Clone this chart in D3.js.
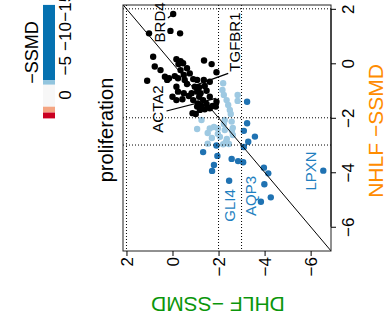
<!DOCTYPE html>
<html>
<head>
<meta charset="utf-8">
<script src="https://cdn.jsdelivr.net/npm/d3@7"></script>
<style>
  body { margin: 0; background: #fff; }
  svg { display: block; }
  text { font-family: "Liberation Sans", Arial, sans-serif; }
</style>
</head>
<body>
<div id="chart"></div>
<script>
// -SSMD per gene, DHLF vs NHLF
const blackDHLF = [-0.03, 1.02, 0.09, -0.33, 0.84, -0.17, -0.35, -0.46, -0.26, -1.37, -1.70, 0.77, 0.52, -0.63, -0.35, -1.91, 1.10, 0.33, 0.15, 0.23, -0.10, -0.24, -0.49, -0.75, -0.53, -0.90, -1.07, -1.36, -1.62, -0.17, -0.63, -0.97, -1.16, -1.40, -0.24, -0.49, -0.83, -1.07, -1.22, -1.48, 0.00, -0.17, -0.43, -0.71, -0.90, -1.16, -1.33, -1.62, -1.11, -1.26, -1.48, -1.91, -1.88, -1.62, -1.07, -0.87, -1.01, -1.40, -1.74, -1.19];
const blackNHLF = [1.81, 1.10, 1.19, 1.10, 0.24, 0.15, 0.08, 0.00, -0.03, 0.10, -0.03, -0.12, -0.25, -0.18, -0.25, -0.33, -0.64, -0.49, -0.55, -0.61, -0.47, -0.55, -0.43, -0.37, -0.61, -0.58, -0.61, -0.61, -0.68, -0.86, -0.76, -0.86, -0.88, -0.83, -1.04, -1.10, -1.10, -1.04, -1.10, -1.01, -1.23, -1.35, -1.32, -1.20, -1.35, -1.23, -1.35, -1.23, -1.47, -1.57, -1.49, -1.41, -1.59, -1.65, -1.59, -1.83, -1.86, -1.69, -1.57, -1.71];

const lightDHLF = [-2.20, -2.17, -2.23, -2.35, -2.42, -2.83, -2.83, -2.49, -2.53, -1.26, -2.27, -2.57, -1.07, -1.62, -1.80, -1.97, -2.23, -2.62, -2.27, -1.53, -1.71, -2.06, -2.36, -2.62, -1.53, -2.20, -2.45, -2.32, -2.58, -1.97];
const lightNHLF = [-0.73, -0.98, -1.16, -1.35, -1.53, -1.16, -1.38, -1.71, -1.86, -2.08, -2.08, -2.14, -2.41, -2.39, -2.34, -2.39, -2.23, -2.37, -2.45, -2.56, -2.74, -2.70, -2.78, -2.63, -2.95, -2.97, -2.96, -2.89, -2.48, -2.59];

const darkDHLF = [-3.24, -3.24, -3.10, -3.58, -3.29, -1.91, -3.10, -1.33, -1.95, -2.57, -2.85, -3.07, -1.80, -1.72, -2.46, -3.97, -4.16, -3.99, -4.27, -3.84, -6.55];
const darkNHLF = [-1.41, -2.20, -2.48, -2.69, -2.88, -3.02, -3.07, -3.26, -3.40, -3.51, -3.59, -3.63, -3.73, -3.95, -4.31, -3.83, -4.04, -4.44, -4.92, -5.08, -3.94];

// labelled genes: label position and (optional) leader line, all in data units
const geneNames = ['BRD4', 'TGFBR1', 'ACTA2', 'GLI4', 'AQP3', 'LPXN'];
const geneLabelDHLF = [0.55, -2.71, 0.64, -2.49, -3.38, -6.01];
const geneLabelNHLF = [1.50, 0.78, -1.68, -5.22, -4.87, -3.95];
const geneColor = ['#000', '#000', '#000', '#1f7fc0', '#1f7fc0', '#1f7fc0'];
const leaderFrom = [[0.20, 1.66], [-2.42, -0.37], [0.26, -1.75]];
const leaderTo = [[-0.03, 1.81], [-1.01, -0.80], [-1.88, -1.29]];

const axisTicks = [2, 0, -2, -4, -6];
const cutoffs = [2, -2, -3];

// colour key for -SSMD
const keyBreaks = [-15.4, -2.5, -1.75, 2, 3, 4];
const keyColors = ['#0571b0', '#92c5de', '#f7f7f7', '#f4a582', '#ca0020'];
const keyTicks = [0, -5, -10, -15];

const W = 391, H = 321;
const minus = d => d < 0 ? '\u2212' + Math.abs(d) : String(d);

const svg = d3.select('#chart').append('svg')
  .attr('width', W)
  .attr('height', H);

// plot is drawn turned a quarter turn: DHLF runs along the bottom, NHLF up the right side
const x = d3.scaleLinear().domain([2.15, -6.885]).range([123, 331]);
const y = d3.scaleLinear().domain([2.14, -6.89]).range([5, 251]);

svg.append('clipPath').attr('id', 'plotclip')
  .append('rect')
  .attr('x', x.range()[0]).attr('y', y.range()[0])
  .attr('width', x.range()[1] - x.range()[0])
  .attr('height', y.range()[1] - y.range()[0]);

const plot = svg.append('g').attr('clip-path', 'url(#plotclip)');

// points
const series = [
  {dh: blackDHLF, nh: blackNHLF, fill: '#000'},
  {dh: lightDHLF, nh: lightNHLF, fill: '#9ec9e2'},
  {dh: darkDHLF, nh: darkNHLF, fill: '#1f72b2'}
];
series.forEach(s => {
  plot.append('g').selectAll('circle')
    .data(s.dh.map((d, i) => [d, s.nh[i]]))
    .enter()
    .append('circle')
    .attr('cx', d => x(d[0]))
    .attr('cy', d => y(d[1]))
    .attr('r', 3.2)
    .attr('fill', s.fill);
});

// cutoff lines
plot.selectAll('line.vcut')
  .data(cutoffs).enter().append('line')
  .attr('class', 'vcut')
  .attr('x1', d => x(d)).attr('x2', d => x(d))
  .attr('y1', y.range()[0]).attr('y2', y.range()[1])
  .attr('stroke', '#000').attr('stroke-width', 1).attr('stroke-dasharray', '1,2');
plot.selectAll('line.hcut')
  .data(cutoffs).enter().append('line')
  .attr('class', 'hcut')
  .attr('y1', d => y(d)).attr('y2', d => y(d))
  .attr('x1', x.range()[0]).attr('x2', x.range()[1])
  .attr('stroke', '#000').attr('stroke-width', 1).attr('stroke-dasharray', '1,2');

// identity line
plot.append('line')
  .attr('x1', x(3)).attr('y1', y(3))
  .attr('x2', x(-8)).attr('y2', y(-8))
  .attr('stroke', '#000').attr('stroke-width', 1);

// leader lines
plot.selectAll('line.leader')
  .data(leaderFrom).enter().append('line')
  .attr('class', 'leader')
  .attr('x1', d => x(d[0])).attr('y1', d => y(d[1]))
  .attr('x2', (d, i) => x(leaderTo[i][0])).attr('y2', (d, i) => y(leaderTo[i][1]))
  .attr('stroke', '#000').attr('stroke-width', 1.2);

// gene labels
svg.append('g').selectAll('text')
  .data(geneNames).enter().append('text')
  .attr('transform', (d, i) => 'translate(' + (x(geneLabelDHLF[i]) + 5.4) + ',' + y(geneLabelNHLF[i]) + ')rotate(-90)')
  .attr('text-anchor', 'middle')
  .attr('fill', (d, i) => geneColor[i])
  .style('font-size', '15px')
  .text(d => d);

// box
svg.append('rect')
  .attr('x', x.range()[0]).attr('y', y.range()[0])
  .attr('width', x.range()[1] - x.range()[0])
  .attr('height', y.range()[1] - y.range()[0])
  .attr('fill', 'none').attr('stroke', '#222').attr('stroke-width', 1);

// bottom axis (DHLF)
const bottom = svg.append('g')
  .attr('transform', 'translate(0,' + y.range()[1] + ')')
  .call(d3.axisBottom(x).tickValues(axisTicks).tickSize(5).tickSizeOuter(0).tickFormat(minus));
bottom.select('.domain').remove();
bottom.selectAll('text')
  .attr('transform', 'rotate(-90)')
  .attr('x', -6).attr('y', 0).attr('dy', '0.35em')
  .attr('text-anchor', 'end')
  .attr('fill', '#000')
  .style('font-size', '17px');

// right axis (NHLF)
const right = svg.append('g')
  .attr('transform', 'translate(' + x.range()[1] + ',0)')
  .call(d3.axisRight(y).tickValues(axisTicks).tickSize(5).tickSizeOuter(0).tickFormat(minus));
right.select('.domain').remove();
right.append('line')
  .attr('y1', y(2)).attr('y2', y(-6))
  .attr('stroke', '#000');
right.selectAll('text')
  .attr('transform', 'rotate(-90)')
  .attr('x', 0).attr('y', 23).attr('dy', 0)
  .attr('text-anchor', 'middle')
  .attr('fill', '#000')
  .style('font-size', '17px');

// titles
svg.append('text')
  .attr('transform', 'translate(113,130)rotate(-90)')
  .attr('text-anchor', 'middle')
  .style('font-size', '20px')
  .text('proliferation');

svg.append('text')
  .attr('transform', 'translate(383,131)rotate(-90)')
  .attr('text-anchor', 'middle')
  .attr('fill', '#ff8c00')
  .style('font-size', '21px')
  .text('NHLF \u2212SSMD');

svg.append('text')
  .attr('transform', 'translate(218,296.5)rotate(180)')
  .attr('text-anchor', 'middle')
  .attr('fill', '#0b960b')
  .style('font-size', '21px')
  .text('DHLF \u2212SSMD');

// colour key
const ky = d3.scaleLinear().domain([0, -15]).range([95, 7.25]);
const key = svg.append('g');
key.selectAll('rect')
  .data(keyColors).enter().append('rect')
  .attr('x', 43).attr('width', 12)
  .attr('y', (d, i) => ky(keyBreaks[i]))
  .attr('height', (d, i) => ky(keyBreaks[i + 1]) - ky(keyBreaks[i]))
  .attr('fill', d => d);
key.selectAll('text')
  .data(keyTicks).enter().append('text')
  .attr('transform', d => 'translate(71,' + ky(d) + ')rotate(-90)')
  .attr('text-anchor', 'middle')
  .style('font-size', '17px')
  .text(minus);
key.append('text')
  .attr('transform', 'translate(38,52.5)rotate(-90)')
  .attr('text-anchor', 'middle')
  .style('font-size', '18px')
  .text('\u2212SSMD');
</script>
</body>
</html>
